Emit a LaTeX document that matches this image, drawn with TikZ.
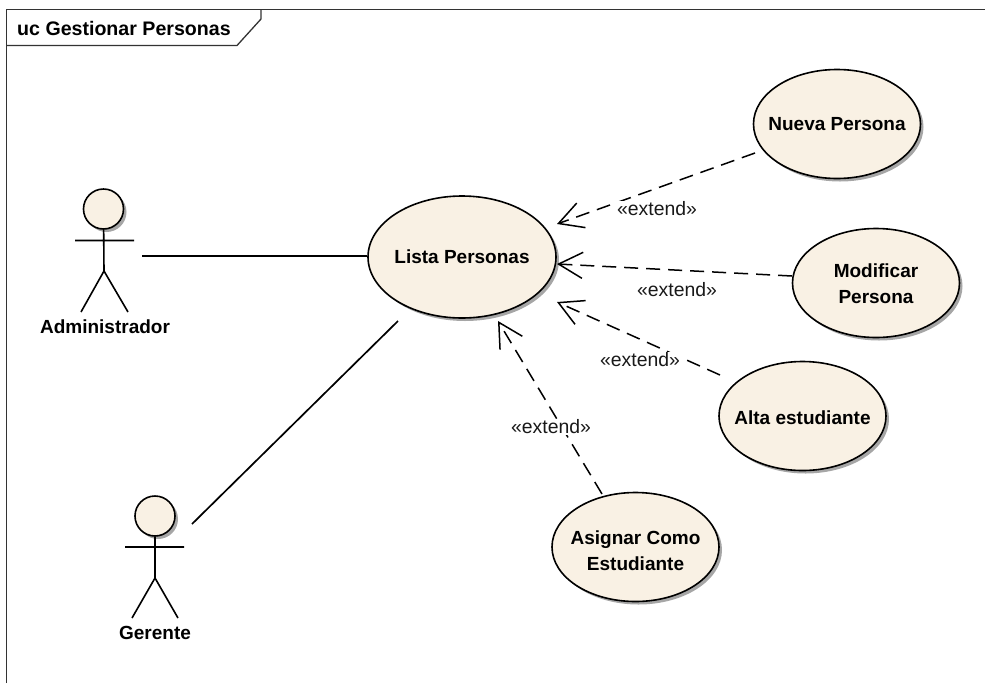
\documentclass[tikz,border=0pt]{standalone}
\usepackage{fontspec}
\setmainfont{Liberation Sans}
\usetikzlibrary{arrows.meta,shadows,shapes.geometric}
\definecolor{cream}{HTML}{F9F1E4}
\begin{document}
\begin{tikzpicture}[x=1pt,y=-1pt,
  usecase/.style={ellipse,draw=black,line width=1.6pt,fill=cream,inner sep=-40pt,align=center,
    minimum width=167pt,minimum height=109pt,font=\fontsize{19}{26}\selectfont\bfseries,
    drop shadow={shadow xshift=3pt,shadow yshift=-3pt,fill=black!35,opacity=1}},
  head/.style={circle,draw=black,line width=1.6pt,fill=cream,minimum size=40pt,inner sep=0pt,
    drop shadow={shadow xshift=3pt,shadow yshift=-3pt,fill=black!35,opacity=1}},
  actorlabel/.style={font=\fontsize{19}{22}\selectfont\bfseries,inner sep=0pt},
  steretype/.style={font=\fontsize{19.4}{22}\selectfont,fill=white,inner xsep=1pt,inner ysep=1pt,text=black!90},
  assoc/.style={line width=1.7pt},
  extendarrow/.style={line width=1.5pt,dash pattern=on 14pt off 8pt,
    -{Straight Barb[length=24pt,width=26pt,line width=1.5pt]}},
  limb/.style={line width=1.6pt}]
\useasboundingbox (0,0) rectangle (985,683);
% frame
\coordinate (fa) at (6.5,683);
\coordinate (fb) at (6.5,9.5);
\coordinate (fc) at (985,9.5);
\coordinate (ta) at (6.5,45.5);
\coordinate (tb) at (237,45.5);
\coordinate (tc) at (261,19);
\coordinate (td) at (261,9.5);
\draw[line width=1.3pt,black!80] (fa) -- (fb) -- (fc);
\draw[line width=1.3pt,black!80] (ta) -- (tb) -- (tc) -- (td);
\node[anchor=west,inner sep=0pt,font=\fontsize{19.6}{22}\selectfont\bfseries] (title) at (17,28.5) {uc Gestionar Personas};
% use cases
\node[usecase,minimum width=188pt,minimum height=122pt] (lista) at (462,257) {Lista Personas};
\node[usecase] (nueva) at (837,124) {Nueva Persona};
\node[usecase] (modif) at (876,283) {\rule{0pt}{16pt}Modificar\\Persona};
\node[usecase] (alta) at (802.5,416) {\rule{0pt}{18pt}Alta estudiante};
\node[usecase] (asig) at (635.5,547) {\rule{0pt}{22pt}Asignar Como\\Estudiante};
% actors
\node[head] (h1) at (103.5,209) {};
\coordinate (a1l) at (75,240.5);
\coordinate (a1r) at (134,240.5);
\coordinate (a1b) at (104,271);
\coordinate (a1f) at (81,312);
\coordinate (a1g) at (128,312);
\draw[limb] (h1) -- (a1b) (a1l) -- (a1r) (a1f) -- (a1b) -- (a1g);
\node[actorlabel] (admin) at (105,327) {Administrador};
\node[head] (h2) at (155,516) {};
\coordinate (a2l) at (125,547);
\coordinate (a2r) at (184,547);
\coordinate (a2b) at (155,578);
\coordinate (a2f) at (132,618);
\coordinate (a2g) at (178,618);
\draw[limb] (h2) -- (a2b) (a2l) -- (a2r) (a2f) -- (a2b) -- (a2g);
\node[actorlabel] (ger) at (155,633) {Gerente};
% associations
\coordinate (s1) at (142,256);
\coordinate (s2) at (192,524);
\coordinate (e2) at (398,321);
\draw[assoc] (s1) -- (lista.west |- s1);
\draw[assoc] (s2) -- (e2);
% extends
\coordinate (t1) at (557,224);
\coordinate (t2) at (557,264);
\coordinate (t3) at (557,302);
\coordinate (t4) at (498,321);
\coordinate (f1) at (755,153);
\coordinate (f2) at (792,276);
\coordinate (f3) at (720,375);
\coordinate (f4) at (602,494);
\draw[extendarrow] (f1) -- (t1);
\draw[extendarrow] (f2) -- (t2);
\draw[extendarrow] (f3) -- (t3);
\draw[extendarrow] (f4) -- (t4);
\node[steretype] (l1) at (657,209) {«extend»};
\node[steretype] (l2) at (677,290) {«extend»};
\node[steretype] (l3) at (640,360) {«extend»};
\node[steretype] (l4) at (551,427) {«extend»};
\end{tikzpicture}
\end{document}
